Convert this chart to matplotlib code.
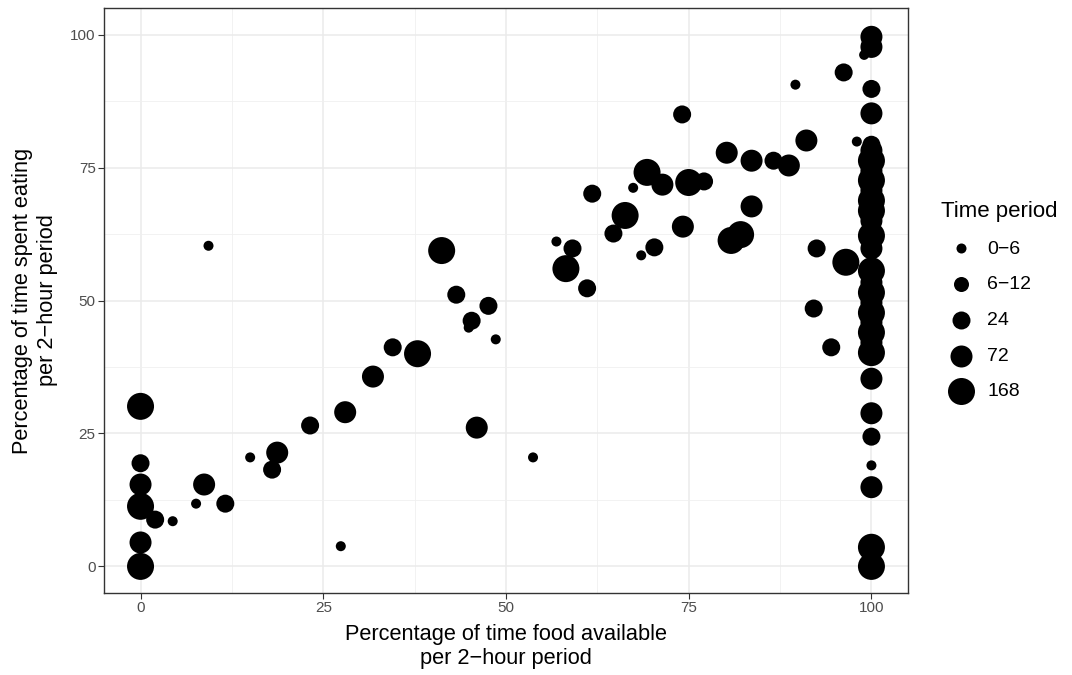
import matplotlib
matplotlib.use("Agg")
import matplotlib.pyplot as plt

plt.rcParams['font.family'] = ['Liberation Sans', 'DejaVu Sans']

# time period categories and marker areas
periods = ['0\u22126', '6\u221212', '24', '72', '168']
sizes = [52, 117, 168, 251, 378]

# food available (%), time eating (%), period index
food = [0, 0, 0, 0, 0, 0, 2.0, 4.4, 7.6, 8.7, 11.6, 15.0, 18.7, 18.0, 23.2,
        28.0, 31.8, 34.5, 27.4, 9.3, 41.2, 43.2, 37.9, 47.6, 45.3, 44.9, 48.6,
        46.0, 53.7, 56.9, 59.1, 58.2, 61.1, 61.8, 66.3, 64.7, 67.4, 69.3, 71.4,
        74.1, 74.2, 70.3, 68.5, 75.0, 77.1, 80.2, 83.6, 86.6, 88.7, 91.1, 89.6,
        96.2, 83.6, 82.1, 80.8, 92.5, 96.5, 92.1, 94.5,
        100, 100, 99.0, 100, 100, 98.0, 100,
        100, 100, 100, 100, 100, 100, 100, 100, 100, 100,
        100, 100, 100, 100, 100, 100, 100, 100, 100,
        100, 100, 100, 100, 100, 100, 100]
eating = [30.1, 19.4, 15.4, 11.3, 4.5, 0, 8.8, 8.5, 11.8, 15.4, 11.8, 20.5,
          21.4, 18.2, 26.5, 29.0, 35.7, 41.2, 3.8, 60.3, 59.4, 51.1, 40.0, 49.0,
          46.2, 44.9, 42.7, 26.1, 20.5, 61.1, 59.8, 56.0, 52.3, 70.1, 66.0,
          62.6, 71.2, 74.1, 71.8, 85.0, 63.9, 60.0, 58.5, 72.2, 72.4, 77.8,
          76.3, 76.3, 75.4, 80.1, 90.6, 92.9, 67.7, 62.4, 61.3, 59.8, 57.2,
          48.5, 41.2,
          99.6, 97.7, 96.2, 89.8, 85.2, 79.9, 79.3,
          78.2, 76.3, 74.4, 72.6, 70.7, 68.8, 66.9, 65.0, 62.2, 59.8,
          55.6, 53.4, 51.5, 49.6, 47.7, 45.9, 44.0, 42.1, 40.2,
          35.3, 28.8, 24.4, 19.0, 14.9, 3.6, 0]
period = [4, 2, 3, 4, 3, 4, 2, 0, 0, 3, 2, 0, 3, 2, 2, 3, 3, 2, 0, 0, 4, 2, 4,
          2, 2, 0, 0, 3, 0, 0, 2, 4, 2, 2, 4, 2, 0, 4, 3, 2, 3, 2, 0, 4, 2, 3,
          3, 2, 3, 3, 0, 2, 3, 4, 4, 2, 4, 2, 2,
          3, 3, 0, 2, 3, 0, 2,
          3, 4, 3, 4, 3, 4, 4, 3, 4, 3,
          4, 3, 4, 3, 4, 3, 4, 3, 4,
          3, 3, 2, 0, 3, 4, 4]

fig = plt.figure(figsize=(10.72, 6.75), dpi=100)
ax = fig.add_axes([0.097, 0.1215, 0.75, 0.8665])

ax.scatter(food, eating, s=[sizes[p] for p in period], c='black',
           linewidths=0, zorder=3)

ax.set_xlim(-5, 105)
ax.set_ylim(-5, 105)
ticks = [0, 25, 50, 75, 100]
ax.set_xticks(ticks)
ax.set_yticks(ticks)
ax.set_xticks([12.5, 37.5, 62.5, 87.5], minor=True)
ax.set_yticks([12.5, 37.5, 62.5, 87.5], minor=True)
ax.grid(True, which='major', color='#ebebeb', lw=1.1, zorder=0)
ax.grid(True, which='minor', color='#f0f0f0', lw=0.6, zorder=0)
ax.tick_params(which='minor', length=0)
ax.tick_params(which='major', length=4, width=0.8, color='#333333',
               labelcolor='#4d4d4d', labelsize=11, pad=2)
for sp in ax.spines.values():
    sp.set_color('#333333')
    sp.set_linewidth(1.0)
ax.set_axisbelow(True)

ax.set_xlabel('Percentage of time food available\nper 2\u2212hour period',
              fontsize=15.7, linespacing=1.2, labelpad=6)
ax.set_ylabel('Percentage of time spent eating\nper 2\u2212hour period',
              fontsize=15.7, linespacing=1.2, labelpad=9)

handles = [ax.scatter([], [], s=s, c='black', linewidths=0) for s in sizes]
leg = ax.legend(handles, periods, title='Time period', loc='upper left',
                bbox_to_anchor=(0.871, 0.714), bbox_transform=fig.transFigure,
                frameon=False, fontsize=14, title_fontsize=16,
                labelspacing=0.93, handletextpad=0.35, borderaxespad=0)
leg._legend_box.align = 'left'

fig.savefig('out.png', dpi=100)
